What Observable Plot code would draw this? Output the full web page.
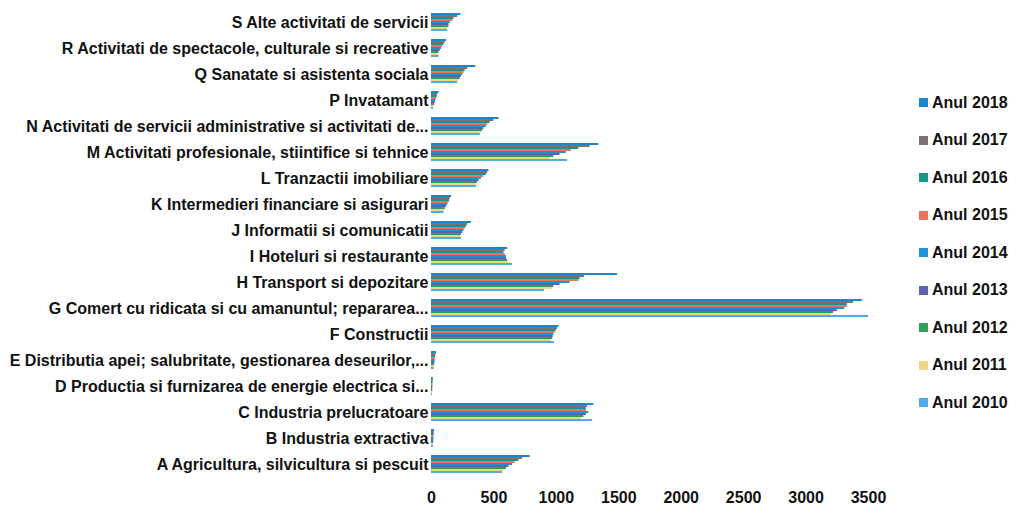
<!DOCTYPE html>
<html>
<head>
<meta charset="utf-8">
<script src="https://cdn.jsdelivr.net/npm/d3@7"></script>
<script src="https://cdn.jsdelivr.net/npm/@observablehq/plot@0.6"></script>
<style>
  html, body { margin: 0; padding: 0; background: #fff; }
  #wrap { position: relative; width: 1018px; height: 506px; }
  #legend { position: absolute; left: 919px; top: 84px; font-family: 'Liberation Sans', Arial, sans-serif; font-size: 16px; font-weight: bold; color: #111; }
  #legend .item { height: 37.5px; display: flex; align-items: center; }
  #legend .sw { width: 9px; height: 9px; margin-right: 4px; display: inline-block; }
</style>
</head>
<body>
<div id="wrap"><div id="legend"></div></div>
<script>
const categories = [
  "A Agricultura, silvicultura si pescuit",
  "B Industria extractiva",
  "C Industria prelucratoare",
  "D Productia si furnizarea de energie electrica si...",
  "E Distributia apei; salubritate, gestionarea deseurilor,...",
  "F Constructii",
  "G Comert cu ridicata si cu amanuntul; repararea...",
  "H Transport si depozitare",
  "I Hoteluri si restaurante",
  "J Informatii si comunicatii",
  "K Intermedieri financiare si asigurari",
  "L Tranzactii imobiliare",
  "M Activitati profesionale, stiintifice si tehnice",
  "N Activitati de servicii administrative si activitati de...",
  "P Invatamant",
  "Q Sanatate si asistenta sociala",
  "R Activitati de spectacole, culturale si recreative",
  "S Alte activitati de servicii"
];
const years = ["Anul 2018","Anul 2017","Anul 2016","Anul 2015","Anul 2014","Anul 2013","Anul 2012","Anul 2011","Anul 2010"];
const colors = ["#1a87cc","#7d7079","#17958a","#ec715e","#1d93d8","#5d62aa","#2fa05a","#ecd684","#4eaae8"];
const xTicks = [0,500,1000,1500,2000,2500,3000,3500];

const v2018 = [790, 25, 1300, 15, 40, 1020, 3450, 1490, 610, 320, 160, 460, 1340, 540, 60, 355, 120, 235];
const v2017 = [730, 22, 1250, 14, 35, 1010, 3380, 1225, 590, 290, 150, 450, 1270, 500, 50, 290, 110, 210];
const v2016 = [700, 22, 1240, 13, 33, 1000, 3330, 1190, 580, 280, 145, 440, 1180, 470, 45, 270, 100, 180];
const v2015 = [670, 20, 1240, 12, 30, 990, 3330, 1180, 590, 270, 140, 420, 1120, 450, 40, 260, 90, 170];
const v2014 = [650, 20, 1260, 12, 30, 980, 3310, 1110, 600, 260, 130, 400, 1080, 440, 35, 250, 80, 150];
const v2013 = [620, 18, 1240, 10, 28, 975, 3250, 1030, 600, 250, 120, 380, 1030, 420, 30, 240, 70, 140];
const v2012 = [600, 18, 1220, 10, 25, 970, 3220, 980, 610, 240, 110, 370, 980, 410, 25, 230, 60, 140];
const v2011 = [580, 16, 1200, 9, 25, 960, 3200, 965, 620, 235, 105, 360, 950, 400, 20, 220, 55, 130];
const v2010 = [570, 15, 1290, 8, 22, 985, 3500, 905, 650, 240, 100, 360, 1090, 390, 15, 210, 60, 130];

const series = [v2018, v2017, v2016, v2015, v2014, v2013, v2012, v2011, v2010];
const data = [];
categories.forEach((c, i) => {
  years.forEach((y, j) => data.push({cat: c, year: y, value: series[j][i]}));
});

const font = "'Liberation Sans', Arial, sans-serif";

const chart = Plot.plot({
  width: 1018,
  height: 506,
  marginLeft: 431,
  marginRight: 150,
  marginTop: 10,
  marginBottom: 30,
  style: {fontFamily: font, fontSize: "16px", fontWeight: "bold", color: "#111", background: "transparent"},
  x: {domain: [0, 3500], label: null},
  fy: {domain: categories.slice().reverse(), padding: 0.15, label: null},
  y: {domain: years, axis: null, padding: 0},
  color: {domain: years, range: colors},
  marks: [
    Plot.barX(data, {fy: "cat", y: "year", x: "value", fill: "year"}),
    Plot.axisFy({anchor: "left", tickSize: 0, tickPadding: 3, label: null, fontSize: 16}),
    Plot.axisX({anchor: "bottom", ticks: xTicks, tickFormat: d => String(d), tickSize: 0, tickPadding: 16, label: null, fontSize: 16})
  ]
});
document.getElementById("wrap").prepend(chart);

const legend = document.getElementById("legend");
years.forEach((y, j) => {
  const it = document.createElement("div");
  it.className = "item";
  const sw = document.createElement("span");
  sw.className = "sw";
  sw.style.background = colors[j];
  const t = document.createElement("span");
  t.textContent = y;
  it.appendChild(sw); it.appendChild(t);
  legend.appendChild(it);
});
</script>
</body>
</html>
